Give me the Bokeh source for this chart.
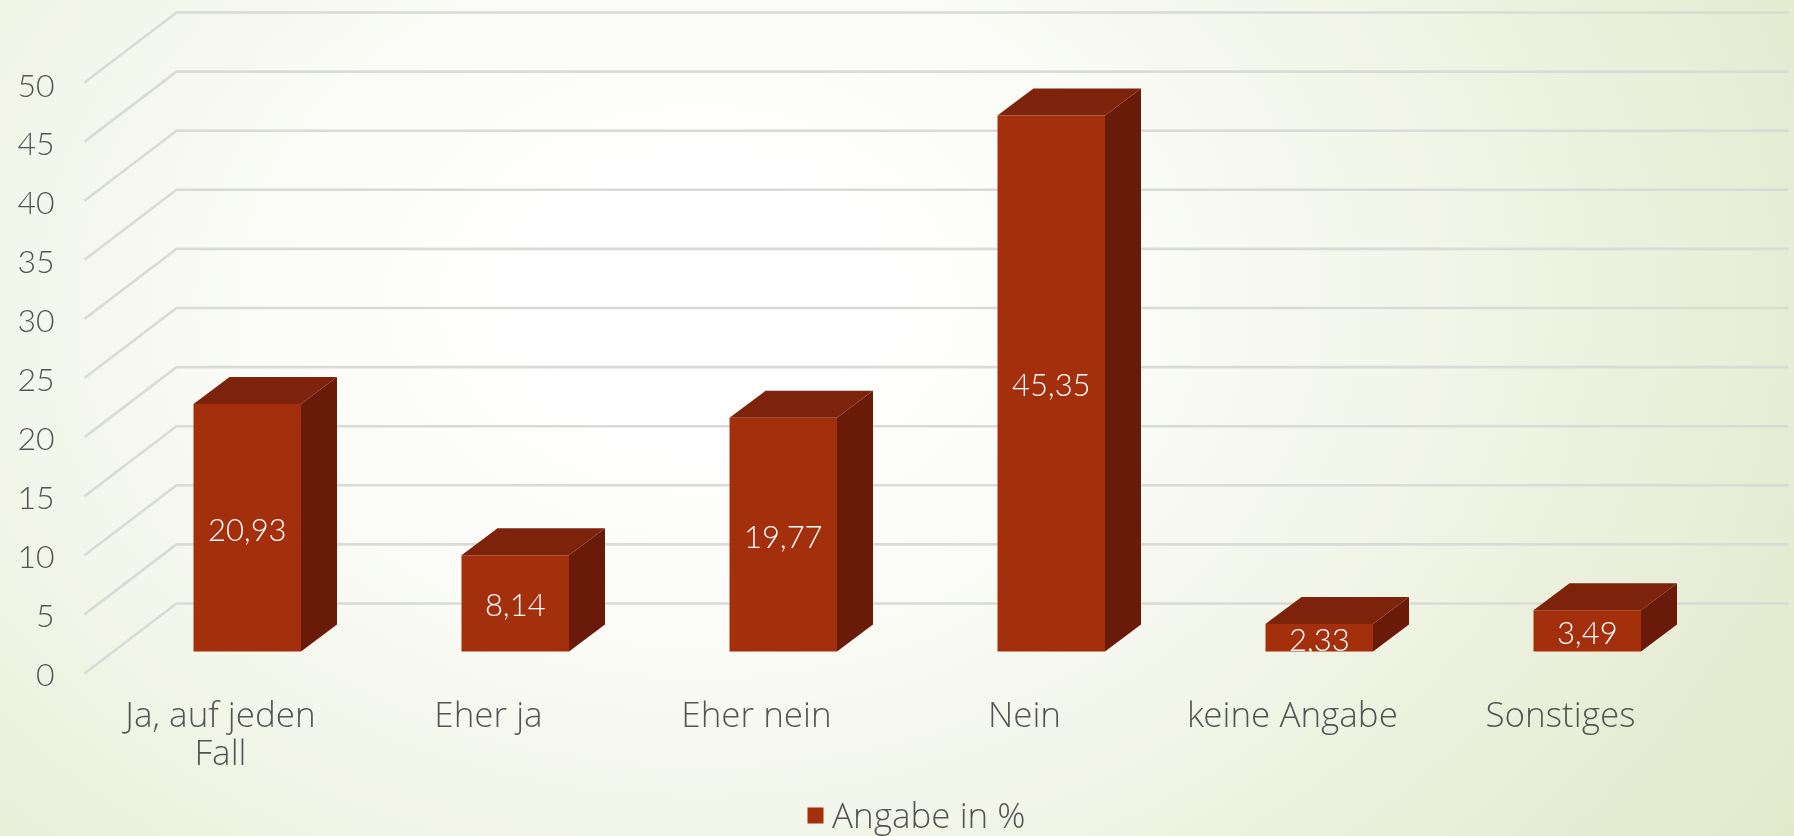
from bokeh.plotting import figure
from bokeh.embed import file_html
from bokeh.resources import INLINE
from bokeh.models import Range1d, LinearAxis, FixedTicker, Legend, LegendItem
from bokeh.core.properties import value

categories = ["Ja, auf jeden\nFall", "Eher ja", "Eher nein", "Nein", "keine Angabe", "Sonstiges"]
values = [20.93, 8.14, 19.77, 45.35, 2.33, 3.49]
value_labels = ["20,93", "8,14", "19,77", "45,35", "2,33", "3,49"]
y_ticks = [0, 5, 10, 15, 20, 25, 30, 35, 40, 45, 50]
series_name = "Angabe in %"

FONT = "Lato Light"
FONT2 = "Open Sans Light"
W, H = 1794, 836
FL, FB = 62, 836            # frame left and bottom, px
STEP_X, X0 = 268.0, 246.75  # px per category, px of first bar centre
STEP_Y, Y0 = 11.82, 651.0   # px per unit, px of value 0 at bar front
HALF = 53.75 / STEP_X
DX, DY = 36.0 / STEP_X, 27.0 / STEP_Y   # bar depth, data units
G_L, G_R, G_END = (84 - X0) / STEP_X, (176 - X0) / STEP_X, (1788 - X0) / STEP_X
G_DF, G_DB = -22.0 / STEP_Y, 48.0 / STEP_Y  # wall/floor offset

FRONT, TOP, SIDE = "#a32f0d", "#7e230b", "#6a1a08"
GRID = "#d9dcd6"
TEXT = "#545454"

p = figure(width=W, height=H, output_backend="svg", toolbar_location=None,
           x_range=Range1d((FL - X0) / STEP_X, (W - X0) / STEP_X),
           y_range=Range1d((Y0 - FB) / STEP_Y, Y0 / STEP_Y),
           min_border_left=FL, min_border_right=0, min_border_top=0, min_border_bottom=0,
           x_axis_location=None, y_axis_location=None,
           background_fill_alpha=0, border_fill_alpha=0, outline_line_color=None)
p.xgrid.visible = False
p.ygrid.visible = False
p.styles = {
    "position": "fixed", "left": "0px", "top": "0px",
    "background": "radial-gradient(ellipse 1400px 1050px at 700px 300px, #ffffff 0%, #ffffff 12%, #fbfcf8 30%, #f3f6ea 50%, #e9efd9 72%, #dfe7c6 100%)",
}

# wall and floor grid
p.multi_line(xs=[[G_L, G_R, G_END] for _ in y_ticks],
             ys=[[t + G_DF, t + G_DB, t + G_DB] for t in y_ticks],
             line_color=GRID, line_width=2.6)

# own scales for the shifted axis labels
p.extra_y_ranges = {"lab": Range1d((674 - FB) / 11.78, 674 / 11.78)}
p.extra_x_ranges = {"lab": Range1d((FL - 220) / STEP_X, (W - 220) / STEP_X)}
ya = LinearAxis(y_range_name="lab", ticker=FixedTicker(ticks=y_ticks), axis_line_color=None,
                major_tick_line_color=None, minor_tick_line_color=None,
                major_label_text_font=FONT, major_label_text_font_size="32px",
                major_label_text_color=TEXT, major_label_standoff=2)
p.add_layout(ya, "left")
xa = LinearAxis(x_range_name="lab", ticker=FixedTicker(ticks=list(range(len(categories)))),
                major_label_overrides={i: c for i, c in enumerate(categories)},
                axis_line_color=None, major_tick_line_color=None, minor_tick_line_color=None,
                major_label_text_font=FONT2, major_label_text_font_size="35px",
                major_label_text_line_height=0.82,
                major_label_text_color=TEXT, major_label_standoff=3,
                fixed_location=(Y0 - 680) / STEP_Y)
p.add_layout(xa, "below")

idx = list(range(len(values)))
p.patches(xs=[[i + HALF, i + HALF + DX, i + HALF + DX, i + HALF] for i in idx],
          ys=[[0, DY, v + DY, v] for v in values], fill_color=SIDE, line_color=None)
p.patches(xs=[[i - HALF, i - HALF + DX, i + HALF + DX, i + HALF] for i in idx],
          ys=[[v, v + DY, v + DY, v] for v in values], fill_color=TOP, line_color=None)
front = p.quad(left=[i - HALF for i in idx], right=[i + HALF for i in idx],
               bottom=[0] * len(idx), top=values, fill_color=FRONT, line_color=None)
p.text(x=idx, y=[v / 2 for v in values], text=value_labels, text_color="#ffffff",
       text_font=value(FONT), text_font_size="31px", text_align="center",
       text_baseline="middle", y_offset=2)

legend = Legend(items=[LegendItem(label=series_name, renderers=[front])],
                location=(743, -2), orientation="horizontal",
                background_fill_alpha=0, border_line_color=None,
                glyph_width=20, glyph_height=20, label_standoff=7, padding=0, margin=0,
                label_text_font=FONT2, label_text_font_size="35px", label_text_color=TEXT)
p.add_layout(legend, "center")

open("out.html", "w").write(file_html(p, INLINE))
